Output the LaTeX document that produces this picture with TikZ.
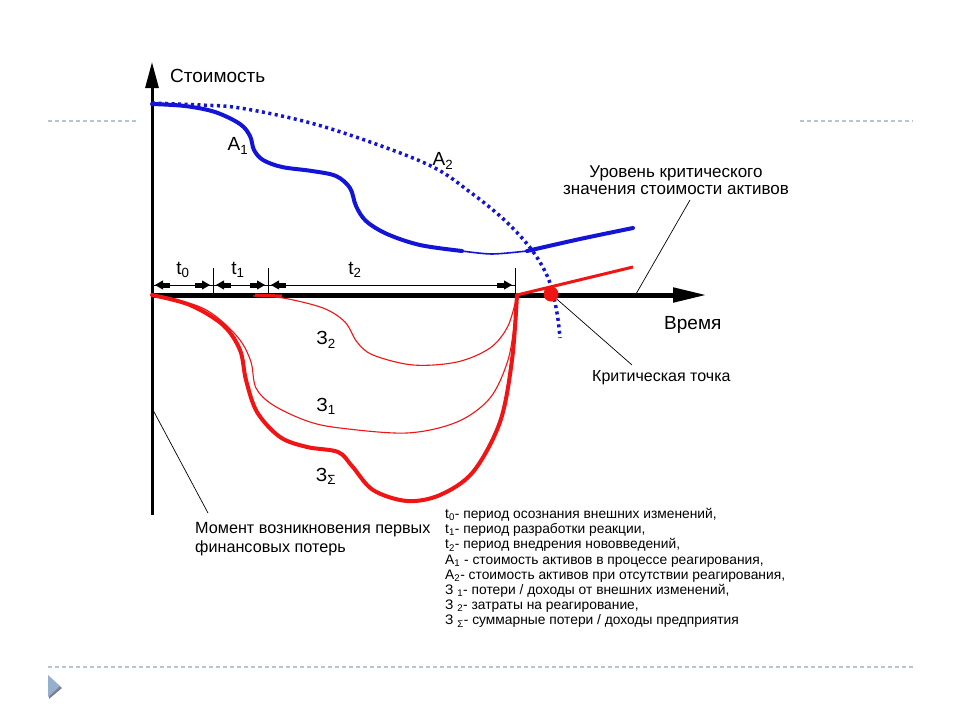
\documentclass[tikz,border=0pt]{standalone}
\usepackage{fontspec}
\setmainfont{Liberation Sans}
\usetikzlibrary{arrows.meta}
\definecolor{cblue}{RGB}{20,20,215}
\definecolor{cred}{RGB}{240,20,20}
\definecolor{decoGray}{RGB}{183,196,210}
\definecolor{triBlue}{RGB}{150,175,205}
\definecolor{triShadow}{RGB}{120,130,145}
\tikzset{
  axisline/.style={line width=#1, black},
  lbl/.style={font=\fontsize{16}{18}\selectfont, inner sep=0pt},
  biglbl/.style={font=\fontsize{19}{21}\selectfont, inner sep=0pt},
  leader/.style={line width=0.7pt, black},
  dimarrow/.style={line width=0.8pt, {Triangle[length=8pt,width=9pt]Rectangle[length=7pt,width=5pt]}-{Rectangle[length=7pt,width=5pt]Triangle[length=8pt,width=9pt]}, shorten <=3pt, shorten >=3pt},
  tick/.style={line width=0.8pt},
  decodash/.style={decoGray, line width=1.3pt, dash pattern=on 4pt off 3pt},
  thickblue/.style={cblue, line width=4pt, line cap=round, line join=round},
  thinred/.style={cred, line width=1.1pt},
  thickred/.style={cred, line width=4pt, line cap=round, line join=round},
}
\begin{document}
\begin{tikzpicture}[x=1pt,y=-1pt]
\useasboundingbox[fill=white] (0,0) rectangle (960,720);
% page decorations
\draw[decodash] (48,121) -- (137,121);
\draw[decodash] (800,121) -- (913,121);
\draw[decodash] (48,667) -- (913,667);
\fill[triShadow] (49,677) -- (62,688) -- (49,699) -- cycle;
\fill[triBlue] (48,675) -- (60,686) -- (48,697) -- cycle;

% axes
\coordinate (O) at (152,295);
\coordinate (Ytop) at (152,62);
\coordinate (Ybot) at (152,515);
\coordinate (Xend) at (707,295);
\draw[axisline=3pt, -{Triangle[length=26pt,width=13pt]}] (Ybot) -- (Ytop);
\draw[axisline=5pt, -{Triangle[length=34pt,width=14pt]}] (O) -- (Xend);
\node[biglbl, anchor=west] (ylab) at (170,76) {Стоимость};
\node[biglbl, anchor=west] (xlab) at (664,325) {Время};

% period dimension line
\coordinate (d0) at (152,285);
\coordinate (d1) at (213,285);
\coordinate (d2) at (268,285);
\coordinate (d3) at (515,285);
\draw[tick] (d0) -- (d3);
\draw[tick] (213,268) -- (213,293);
\draw[tick] (268,268) -- (268,293);
\draw[tick] (515,268) -- (515,293);
\draw[dimarrow] (d0) -- (d1);
\draw[dimarrow] (d1) -- (d2);
\draw[dimarrow] (d2) -- (d3);
\node[biglbl] (t0) at (183,270) {t\textsubscript{0}};
\node[biglbl] (t1) at (238,270) {t\textsubscript{1}};
\node[biglbl] (t2) at (355,270) {t\textsubscript{2}};

% A2 dotted
\draw[cblue, line width=3.5pt, dash pattern=on 3pt off 3.5pt] plot[smooth, tension=0.6] coordinates {(152,103) (200,105) (240,108) (307,122) (373,143) (433,167) (470,192) (500,216) (522,238) (538,259) (550,283) (557,313) (560,338)};
% A1
\draw[thickblue] plot[smooth, tension=0.55] coordinates {(152,104) (185,106) (215,112) (240,124) (250,136) (254,150) (263,160) (282,167) (312,171) (336,176) (350,188) (356,206) (366,221) (387,234) (420,245) (462,251)};
\draw[cblue, line width=1.6pt] plot[smooth] coordinates {(462,251) (492,254) (527,251)};
\draw[thickblue] plot[smooth] coordinates {(527,251) (580,239) (633,228)};
\node[biglbl] (a1) at (238,146) {А\textsubscript{1}};
\node[biglbl] (a2) at (443,161) {А\textsubscript{2}};

% red curves
\draw[thinred] plot[smooth, tension=0.55] coordinates {(152,295) (195,305) (218,318) (240,340) (251,362) (256,388) (273,405) (307,421) (340,428) (407,433) (457,422) (490,398) (508,360) (515,318) (517,295)};
\draw[thinred] plot[smooth, tension=0.55] coordinates {(253,296) (283,298) (323,308) (345,322) (357,342) (373,355) (413,365) (457,362) (490,348) (508,326) (517,295)};
\draw[cred, line width=3pt] (255,295) -- (282,296);
\draw[thickred] plot[smooth, tension=0.55] coordinates {(152,295) (190,305) (223,325) (240,350) (246,380) (257,412) (280,437) (307,447) (338,452) (352,466) (373,490) (407,501) (440,495) (473,472) (500,422) (512,360) (517,295)};
\draw[cred, line width=3pt] (517,295) -- (633,267);
\node[biglbl] (z2) at (326,340) {З\textsubscript{2}};
\node[biglbl] (z1) at (326,406) {З\textsubscript{1}};
\node[biglbl] (zs) at (326,476) {З\textsubscript{Σ}};

% critical point
\node[circle, fill=cred, inner sep=0pt, minimum size=15pt] (cp) at (551,294) {};
\node[lbl, anchor=west] (cptext) at (592,378) {Критическая точка};
\coordinate (cpend) at (632,365);
\draw[leader] (cp) -- (cpend);

% level label
\node[lbl, align=center, font=\fontsize{17}{17}\selectfont] (lvltext) at (676,180) {Уровень критического\\значения стоимости активов};
\coordinate (lvlstart) at (690,200);
\coordinate (lvlend) at (636,294);
\draw[leader] (lvlstart) -- (lvlend);

% moment label
\coordinate (mstart) at (153,410);
\coordinate (mend) at (208,513);
\draw[leader] (mstart) -- (mend);
\node[lbl, anchor=north west, align=left, font=\fontsize{16.2}{19}\selectfont] (mtext) at (195,522) {Момент возникновения первых\\финансовых потерь};

% legend
\node[anchor=north west, align=left, inner sep=0pt, font=\fontsize{13.8}{15.2}\selectfont] (legend) at (445,508) {%
t\textsubscript{0}- период осознания внешних изменений,\\
t\textsubscript{1}- период разработки реакции,\\
t\textsubscript{2}- период внедрения нововведений,\\
А\textsubscript{1} - стоимость активов в процессе реагирования,\\
А\textsubscript{2}- стоимость активов при отсутствии реагирования,\\
З \textsubscript{1}- потери / доходы от внешних изменений,\\
З \textsubscript{2}- затраты на реагирование,\\
З \textsubscript{Σ}- суммарные потери / доходы предприятия};
\end{tikzpicture}
\end{document}
